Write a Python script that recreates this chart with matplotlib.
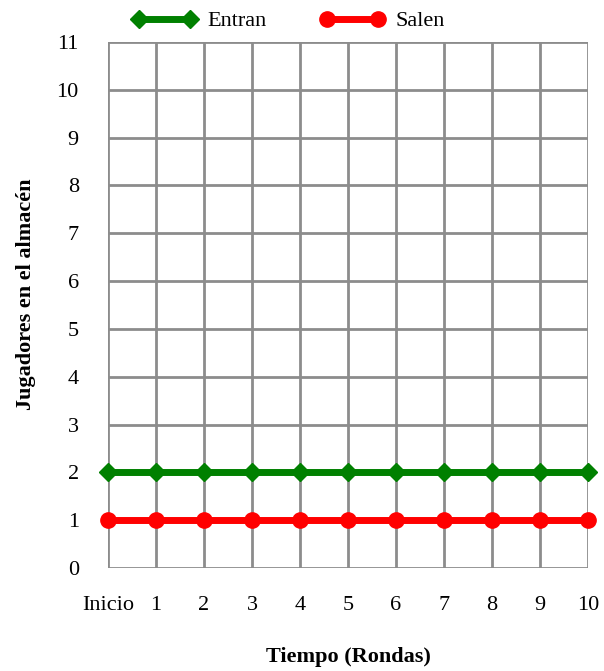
import matplotlib
matplotlib.use('Agg')
import matplotlib.pyplot as plt

# Datos del grafico
rondas = ['Inicio', '1', '2', '3', '4', '5', '6', '7', '8', '9', '10']
entran = [2, 2, 2, 2, 2, 2, 2, 2, 2, 2, 2]
salen = [1, 1, 1, 1, 1, 1, 1, 1, 1, 1, 1]
y_ticks = list(range(0, 12))

plt.rcParams['font.family'] = ['Liberation Serif', 'DejaVu Serif']

fig = plt.figure(figsize=(6.04, 6.71), dpi=100)
ax = fig.add_axes([0.1788, 0.1535, 0.7947, 0.7839])

x = list(range(len(rondas)))
ax.plot(x, entran, color='#008000', lw=5, marker='D', ms=9,
        label='Entran', clip_on=False, zorder=4)
ax.plot(x, salen, color='#ff0000', lw=5, marker='o', ms=11,
        label='Salen', clip_on=False, zorder=4)

ax.set_xlim(0, len(rondas) - 1)
ax.set_ylim(0, 11)
ax.set_xticks(x)
ax.set_xticklabels(rondas)
ax.set_yticks(y_ticks)

ax.grid(True, color='#8c8c8c', lw=2)
ax.set_axisbelow(True)
for s in ax.spines.values():
    s.set_visible(False)
ax.tick_params(length=0, labelsize=16)
ax.tick_params(axis='x', pad=20)
ax.tick_params(axis='y', pad=21)

ax.set_xlabel('Tiempo (Rondas)', fontsize=16, fontweight='bold', labelpad=23)
ax.set_ylabel('Jugadores en el almacén', fontsize=16, fontweight='bold')
ax.yaxis.set_label_coords(-0.15, 0.521)

fig.legend(loc='center left', bbox_to_anchor=(132 / 604, 1 - 21 / 671), ncol=2,
           frameon=False, fontsize=16, handlelength=2.9, numpoints=2,
           handletextpad=0.5, columnspacing=2.4, borderpad=0, borderaxespad=0)

fig.savefig('out.png', dpi=100)
